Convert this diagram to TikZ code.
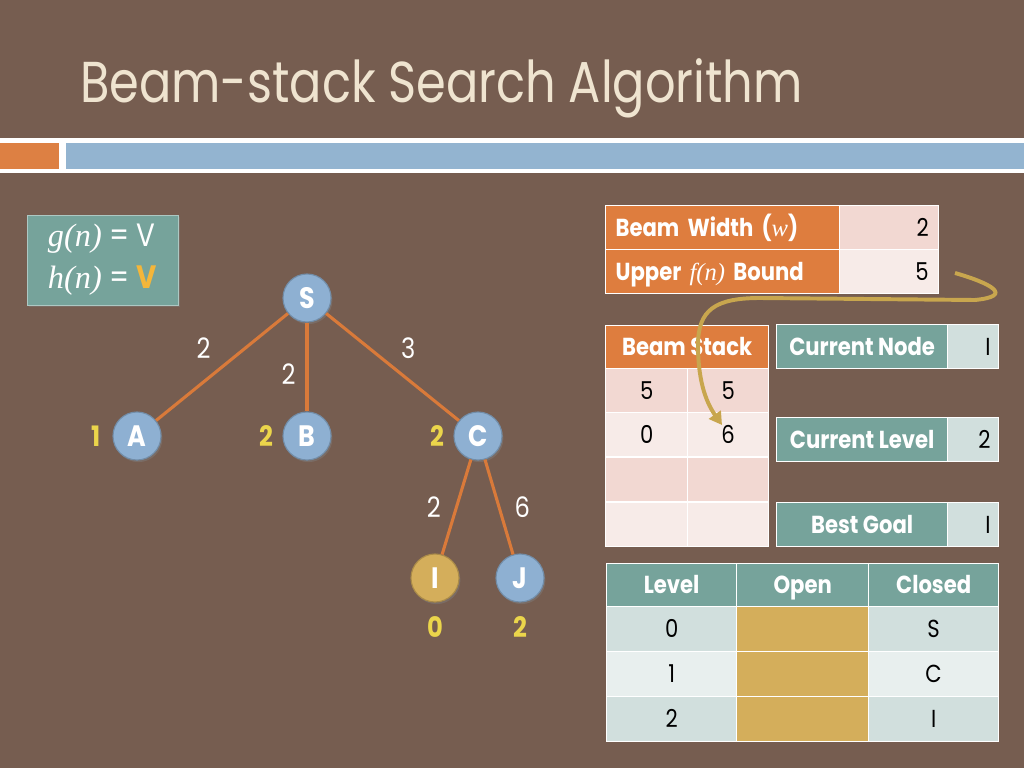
\documentclass[tikz,border=0pt]{standalone}
\usepackage{fontspec}
\setmainfont[FakeStretch=0.86]{Poppins}
\newfontfamily\ttlfont[FakeStretch=0.83]{Poppins}
\newfontfamily\serfont{Liberation Serif}
\usepackage{tikz}
\usetikzlibrary{shapes,positioning,shadows,arrows.meta}

\definecolor{bgbrown}{HTML}{765D50}
\definecolor{ttlcream}{HTML}{EFE4D0}
\definecolor{barorange}{HTML}{DD8043}
\definecolor{barblue}{HTML}{93B4D0}
\definecolor{edgeorange}{HTML}{D97A3A}
\definecolor{nodeblue}{HTML}{8EB0D2}
\definecolor{nodegold}{HTML}{D4AE5B}
\definecolor{hiyellow}{HTML}{EBD54B}
\definecolor{boxteal}{HTML}{76A39B}
\definecolor{hyellow}{HTML}{F4B63A}
\definecolor{cellorange}{HTML}{DE7D3E}
\definecolor{pinkdark}{HTML}{F2D8D2}
\definecolor{pinklight}{HTML}{F7EBE8}
\definecolor{tealdark}{HTML}{D1DFDD}
\definecolor{teallight}{HTML}{E8EFEE}
\definecolor{arrowgold}{HTML}{C8A64E}

\begin{document}
\begin{tikzpicture}[x=0.025cm,y=-0.025cm,
	tnode/.style={circle,minimum size=1.2cm,inner sep=0pt,fill=nodeblue,draw=nodeblue!80!black,line width=0.8pt,text=white,font=\bfseries\fontsize{21}{23}\selectfont,text height=14.5pt,text depth=0pt,drop shadow={opacity=0.45,shadow xshift=1pt,shadow yshift=-1.5pt}},
	edge/.style={edgeorange,line width=2.2pt},
	wlab/.style={text=white,font=\fontsize{20}{22}\selectfont,inner sep=7pt},
	ylab/.style={text=hiyellow,font=\bfseries\fontsize{20}{22}\selectfont,inner sep=1pt},
	cell/.style={rectangle,draw=white,line width=0.9pt,anchor=north west,inner ysep=0pt,inner xsep=0.25cm,minimum height=1.1cm,font=\fontsize{17.5}{19}\selectfont,text height=12pt,text depth=0pt},
	hcell/.style={cell,text=white,font=\bfseries\fontsize{17.5}{19}\selectfont},
	garrow/.style={arrowgold,line width=2.8pt,-{Triangle[length=9pt,width=10pt]}}]
		\useasboundingbox (0,0) rectangle (1024,768);
		\fill[bgbrown] (0,0) rectangle (1024,768);
		\node[text=ttlcream,font=\ttlfont\fontsize{41}{46}\selectfont,anchor=base west,inner sep=0pt] (title) at (80,103) {Beam-stack Search Algorithm};
		\fill[white] (0,138) rectangle (1024,173);
		\fill[barorange] (0,143) rectangle (59,169);
		\fill[barblue] (66,143) rectangle (1024,169);
		\node[fill=boxteal,draw=white!40!boxteal,minimum width=3.775cm,minimum height=2.25cm,text=white,align=left,font=\fontsize{23}{30}\selectfont,drop shadow={opacity=0.4,shadow xshift=1.5pt,shadow yshift=-1.5pt}] (hbox) at (102.5,260) {{\serfont\itshape g(n)} = V\\{\serfont\itshape h(n)} = {\color{hyellow}\bfseries V}};
		\node[tnode] (nS) at (307,298) {S};
		\node[tnode] (nA) at (137,436) {A};
		\node[tnode] (nB) at (307,436) {B};
		\node[tnode] (nC) at (478,436) {C};
		\node[tnode,fill=nodegold,draw=nodegold!80!black] (nI) at (435,578) {I};
		\node[tnode] (nJ) at (520,578) {J};
		\draw[edge] (nS) -- node[wlab,above left,inner sep=5pt,xshift=-2pt] (lSA) {2} (nA);
		\draw[edge] (nS) -- node[wlab,left,yshift=-5pt] (lSB) {2} (nB);
		\draw[edge] (nS) -- node[wlab,above right,inner sep=5pt] (lSC) {3} (nC);
		\draw[edge] (nC) -- node[wlab,left,xshift=-3pt] (lCI) {2} (nI);
		\draw[edge] (nC) -- node[wlab,right,xshift=3pt] (lCJ) {6} (nJ);
		\node[ylab,left=7pt of nA] (hA) {1};
		\node[ylab,left=5pt of nB] (hB) {2};
		\node[ylab,left=5pt of nC] (hC) {2};
		\node[ylab,below=9pt of nI] (hI) {0};
		\node[ylab,below=9pt of nJ] (hJ) {2};
		\node[hcell,fill=cellorange,minimum width=5.85cm,text width=5.35cm,align=left] (bw) at (605,205) {Beam Width ({\serfont\itshape\mdseries w})};
		\node[cell,fill=pinkdark,minimum width=2.475cm,text width=1.975cm,align=right] (bwval) at (839,205) {2};
		\node[hcell,fill=cellorange,minimum width=5.85cm,text width=5.35cm,align=left] (ub) at (605,249) {Upper {\serfont\itshape\mdseries f(n)} Bound};
		\node[cell,fill=pinklight,minimum width=2.475cm,text width=1.975cm,align=right] (ubval) at (839,249) {5};
		\node[hcell,fill=cellorange,minimum width=4.075cm,minimum height=1.075cm] (bsh) at (605,325) {Beam Stack};
		\node[cell,fill=pinkdark,minimum width=2.05cm] (bs11) at (605,368) {5};
		\node[cell,fill=pinkdark,minimum width=2.025cm] (bs12) at (687,368) {5};
		\node[cell,fill=pinklight,minimum width=2.05cm] (bs21) at (605,412) {0};
		\node[cell,fill=pinklight,minimum width=2.025cm] (bs22) at (687,412) {6};
		\node[cell,fill=pinkdark,minimum width=2.05cm] (bs31) at (605,457) {};
		\node[cell,fill=pinkdark,minimum width=2.025cm] (bs32) at (687,457) {};
		\node[cell,fill=pinklight,minimum width=2.05cm] (bs41) at (605,502) {};
		\node[cell,fill=pinklight,minimum width=2.025cm] (bs42) at (687,502) {};
		\node[hcell,fill=boxteal,minimum width=4.275cm] (cn) at (776,324) {Current Node};
		\node[cell,fill=tealdark,minimum width=1.275cm,text width=0.875cm,align=right,inner xsep=0.2cm] (cnval) at (947,324) {I};
		\node[hcell,fill=boxteal,minimum width=4.275cm] (cl) at (776,417) {Current Level};
		\node[cell,fill=tealdark,minimum width=1.275cm,text width=0.875cm,align=right,inner xsep=0.2cm] (clval) at (947,417) {2};
		\node[hcell,fill=boxteal,minimum width=4.275cm] (bg) at (776,502) {Best Goal};
		\node[cell,fill=tealdark,minimum width=1.275cm,text width=0.875cm,align=right,inner xsep=0.2cm] (bgval) at (947,502) {I};
		\node[hcell,fill=boxteal,minimum width=3.25cm,minimum height=1.075cm] (lvh) at (606,563) {Level};
		\node[hcell,fill=boxteal,minimum width=3.3cm,minimum height=1.075cm] (oph) at (736,563) {Open};
		\node[hcell,fill=boxteal,minimum width=3.25cm,minimum height=1.075cm] (clh) at (868,563) {Closed};
		\node[cell,fill=tealdark,minimum width=3.25cm,minimum height=1.125cm] (lv0) at (606,606) {0};
		\node[cell,fill=nodegold,minimum width=3.3cm,minimum height=1.125cm] (op0) at (736,606) {};
		\node[cell,fill=tealdark,minimum width=3.25cm,minimum height=1.125cm] (cl0) at (868,606) {S};
		\node[cell,fill=teallight,minimum width=3.25cm,minimum height=1.125cm] (lv1) at (606,651) {1};
		\node[cell,fill=nodegold,minimum width=3.3cm,minimum height=1.125cm] (op1) at (736,651) {};
		\node[cell,fill=teallight,minimum width=3.25cm,minimum height=1.125cm] (cl1) at (868,651) {C};
		\node[cell,fill=tealdark,minimum width=3.25cm,minimum height=1.125cm] (lv2) at (606,696) {2};
		\node[cell,fill=nodegold,minimum width=3.3cm,minimum height=1.125cm] (op2) at (736,696) {};
		\node[cell,fill=tealdark,minimum width=3.25cm,minimum height=1.125cm] (cl2) at (868,696) {I};
		\coordinate (arS) at (955,273);
		\coordinate (arE) at (722,425);
		\draw[garrow] (arS) .. controls (990,283) and (1015,296) .. (975,300) -- (760,298) .. controls (715,298) and (698,310) .. (698,345) .. controls (698,385) and (708,405) .. (arE);
\end{tikzpicture}
\end{document}
